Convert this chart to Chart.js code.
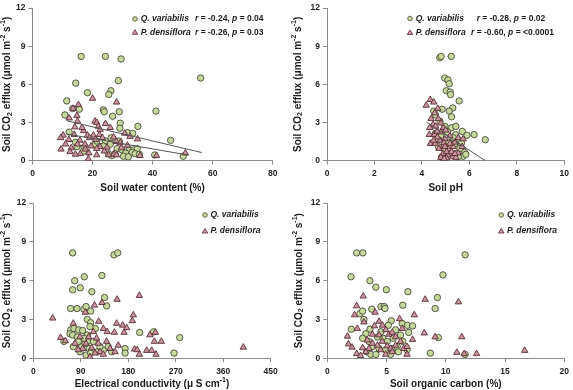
<!DOCTYPE html>
<html>
<head>
<meta charset="utf-8">
<script src="https://cdn.jsdelivr.net/npm/chart.js@4.4.1/dist/chart.umd.min.js"></script>
<style>
  body { margin: 0; background: #fff; width: 573px; height: 390px; position: relative; overflow: hidden; }
  canvas { position: absolute; }
</style>
</head>
<body>
<canvas id="swcChart" width="283" height="195" style="left:0;top:0"></canvas>
<canvas id="phChart" width="290" height="195" style="left:283px;top:0"></canvas>
<canvas id="ecChart" width="283" height="195" style="left:0;top:195px"></canvas>
<canvas id="socChart" width="290" height="195" style="left:283px;top:195px"></canvas>
<script>
// --- data: [x, soil CO2 efflux] ---
const swcQ = [[16.2,8.2],[24.3,8.2],[29.5,8.0],[56,6.5],[14.4,6.1],[28.6,6.3],[18.3,5.35],[26.1,5.5],[25.4,5.2],[11.4,4.7],
  [13.4,4.1],[15.6,4.05],[23.6,4.0],[23.9,3.85],[28.9,3.85],[41.1,3.9],[10.8,3.6],[26.7,3.5],[29.2,2.95],[35.1,2.7],
  [29.1,2.55],[12.2,2.25],[31.7,2.2],[33.4,2.15],[28.9,1.55],[46,1.6],[26.2,1.8],[24.3,1.55],[14.3,1.45],[17.2,1.05],
  [17,0.75],[28.2,0.95],[29.8,0.85],[32.3,0.85],[33.6,0.85],[34.9,0.95],[31,0.6],[33.2,0.65],[34.2,0.55],[35.6,0.5],
  [30.3,0.35],[31.9,0.3],[40.7,0.45],[50.2,0.35],[26.4,0.4],[27.5,0.55],[14.8,1.1],[25.9,1.3],[23.6,1.15],[20.9,1.25],
  [21.4,1.55],[25.3,0.55]];
const swcP = [[20,4.9],[28,4.6],[15.3,4.4],[13.5,4.1],[14.8,3.55],[12.2,3.35],[15,3.1],[20.8,3.1],[21.4,3.0],[24.3,2.9],
  [14.1,2.65],[21.9,2.7],[25.9,2.6],[10.2,2.0],[13.9,2.05],[17,2.35],[18.3,2.0],[20.3,2.0],[22.3,2.05],[27,1.85],
  [30.7,2.15],[32.5,1.9],[35,1.7],[9.4,1.8],[12.1,1.65],[15.8,1.6],[19,1.8],[21,1.65],[23.3,1.8],[11,1.3],
  [12.9,1.0],[15,1.3],[17.5,1.3],[19.5,1.15],[22.5,1.1],[24.8,1.05],[9.5,0.9],[12.5,0.7],[15.9,0.55],[18.8,0.6],
  [21.4,0.45],[23.9,0.75],[25.4,0.45],[27.1,0.5],[28,0.45],[29.6,1.0],[31.6,1.2],[35.8,0.4],[41.3,0.4],[50.9,0.6],
  [18.6,0.15],[14.3,0.5],[17.6,0.9],[21.4,0.95],[27.9,1.5],[29.2,1.4],[16.5,2.6],[22.5,2.45]];
const swcFitQ = [[11.4,3.14],[56.4,0.64]];
const swcFitP = [[11.4,2.1],[51.9,0.44]];

const phQ = [[4.75,8.1],[4.81,8.2],[5.24,8.2],[4.96,6.5],[5.1,6.35],[5.15,6.05],[5.03,5.5],[5.19,5.4],[5.21,5.2],[5.57,4.7],
  [4.85,4.05],[5.3,4.15],[5.15,3.9],[5.25,3.45],[4.5,3.9],[4.57,3.6],[4.76,3.1],[4.97,2.7],[5.25,2.6],[5.43,2.7],
  [5.7,2.3],[5.9,2.0],[6.2,2.05],[6.67,1.65],[5.53,1.65],[5.67,1.4],[5.4,1.35],[5.17,0.95],[5.6,0.95],[5.8,0.65],
  [5.74,0.35],[5.46,0.55],[5.25,0.55],[4.97,0.8],[4.57,2.15],[4.69,1.65],[4.8,2.0],[4.7,1.1],[5.08,2.25],[5.42,2.05],
  [5.85,0.5],[5.32,1.8],[4.83,0.3],[5.53,0.3],[5.11,1.45]];
const phP = [[4.18,4.35],[4.35,4.8],[4.5,4.6],[4.67,4.1],[4.54,3.75],[4.39,3.3],[4.69,3.3],[4.47,2.85],[4.58,2.7],[4.33,2.6],
  [4.9,2.6],[4.31,2.05],[4.53,2.05],[4.8,2.25],[5.0,2.4],[4.36,1.35],[4.56,1.35],[4.76,1.6],[4.97,1.7],[5.18,1.95],
  [5.53,1.8],[5.74,1.7],[4.72,0.95],[4.9,1.15],[5.11,0.9],[5.32,1.1],[4.89,0.55],[5.1,0.45],[5.3,0.3],[5.53,0.6],
  [4.8,0.25],[5.04,0.2],[5.43,0.25],[4.65,1.85],[4.93,1.4],[5.18,1.35],[5.39,1.45],[4.49,1.6],[5.04,0.7],[5.7,1.1],
  [4.64,2.3],[4.8,2.95],[4.97,1.1],[5.25,0.7],[5.39,0.55],[4.94,0.15]];
const phFitP = [[4.18,3.06],[6.67,0]];

const ecQ = [[74.6,8.15],[153,8.0],[160,8.15],[78.4,6.0],[96.7,6.3],[130,6.4],[74.6,5.3],[89,5.45],[111,5.15],[135,4.7],
  [139,4.05],[70.8,3.85],[82.8,3.85],[96,3.8],[100,4.0],[108.7,3.65],[102.4,3.0],[108.7,2.75],[70.8,2.2],[77,2.3],
  [86,2.2],[93.6,2.15],[69.5,1.9],[74.6,1.8],[83.4,1.65],[102.4,1.8],[58,1.3],[201.6,2.0],[228,2.05],[277.5,1.6],
  [266.8,0.4],[82,1.15],[91.7,0.9],[98,1.15],[106,0.75],[113.8,1.3],[88.5,0.5],[100,0.25],[108.7,0.4],[121,0.5],
  [132.7,0.65],[142,0.9],[148.6,0.5],[174,0.75],[174,0.4],[117.6,2.3],[102.4,1.3],[75.8,0.9],[85.3,1.3],[107.4,2.45],
  [96,1.55],[126.4,0.9]];
const ecP = [[36.7,3.1],[51.8,1.6],[60.7,1.35],[75.8,2.7],[79,1.15],[98.6,3.55],[116,4.1],[130,4.3],[158.7,4.55],[201,4.85],
  [124,2.85],[132.7,2.3],[140,2.05],[158,2.7],[169.4,2.55],[177,2.35],[172,2.0],[189.6,3.35],[187.7,2.9],[153.6,2.0],
  [221,1.8],[229.5,1.3],[231.4,2.0],[242.7,1.3],[192,0.7],[197,0.65],[214.9,0.6],[224.4,0.6],[232.6,0.3],[201,0.3],
  [398,0.85],[161,1.0],[145.4,0.75],[126.4,0.5],[117,0.4],[107.4,0.1],[100,1.15],[93.6,0.75],[120,1.55],[123,1.15],
  [139,1.3],[105,1.65],[113.8,2.05],[110.6,0.8],[85.3,0.65],[132.7,0.3],[155,0.5],[88.5,1.65]];

const socQ = [[2.48,8.15],[3.0,8.15],[11.63,8.0],[2.0,6.3],[3.6,6.0],[9.76,6.45],[4.1,5.5],[4.98,5.3],[6.8,5.15],[9.29,4.7],
  [6.37,4.1],[4.53,4.0],[4.8,4.0],[4.87,3.85],[3.75,3.8],[9.1,3.85],[2.75,3.45],[2.98,3.65],[3.09,3.0],[5.4,2.9],
  [6.32,2.7],[6.76,2.55],[7.2,2.5],[2.03,2.25],[3.6,2.25],[5.76,2.2],[3.25,1.9],[5.15,2.55],[9.37,1.6],[4.25,1.65],
  [4.7,1.55],[5.06,1.3],[6.37,1.3],[6.87,2.0],[3.53,1.3],[3.8,0.9],[4.37,0.75],[4.93,0.65],[5.48,0.75],[5.9,0.9],
  [6.0,0.5],[3.34,0.5],[3.67,0.3],[4.1,0.3],[5.34,0.3],[6.73,0.65],[8.7,0.4],[11.63,0.3],[5.56,1.55],[4.53,2.05],
  [2.98,1.55],[6.18,1.8]];
const socP = [[3.03,4.8],[2.48,4.05],[4.03,3.55],[2.3,3.35],[3.09,2.8],[4.37,2.85],[2.53,2.3],[3.98,2.5],[1.7,1.7],[1.78,1.1],
  [2.09,0.85],[2.48,0.35],[2.81,0.2],[8.26,4.55],[11.07,4.35],[7.34,3.35],[6.1,3.05],[6.32,2.3],[8.18,1.95],[9.1,1.65],
  [11.35,1.65],[7.2,1.45],[10.93,0.45],[11.55,0.35],[12.6,0.35],[16.66,0.6],[6.73,0.3],[3.37,1.4],[3.81,1.85],[4.37,1.8],
  [4.65,2.55],[4.93,2.2],[5.2,1.85],[5.48,2.0],[5.76,1.65],[3.81,1.15],[4.23,1.0],[4.65,1.3],[5.06,0.95],[5.34,0.75],
  [5.76,1.0],[6.18,1.3],[4.5,0.65],[3.53,0.75],[3.25,0.5],[2.98,0.8],[4.93,0.3],[5.48,0.5],[6.45,0.75],[6.73,0.9]];

// --- styles ---
const FONT = "'Liberation Sans', Arial, sans-serif";
const qFill = '#c5d99c', qEdge = '#4a4a3a';
const pFill = '#c8959e', pEdge = '#5a2c36';
const axisColor = '#8c8c8c';

function toXY(arr) { return arr.map(p => ({ x: p[0], y: p[1] })); }

// draw a run of text pieces (different fonts / baseline shifts) starting at x
function drawRun(ctx, segs, x, y) {
  segs.forEach(s => {
    ctx.font = s.f;
    ctx.fillText(s.t, x, y + (s.dy || 0));
    x += ctx.measureText(s.t).width;
  });
}
function runWidth(ctx, segs) {
  return segs.reduce((w, s) => { ctx.font = s.f; return w + ctx.measureText(s.t).width; }, 0);
}

const B10 = `bold 10px ${FONT}`, B7 = `bold 7px ${FONT}`;
const yTitleSegs = [
  { t: 'Soil CO', f: B10 }, { t: '2', f: B7, dy: 2.5 }, { t: ' efflux (\u03bcmol m', f: B10 },
  { t: '-2', f: B7, dy: -4 }, { t: ' s', f: B10 }, { t: '-1', f: B7, dy: -4 }, { t: ')', f: B10 }
];

const panelText = {
  id: 'panelText',
  afterDraw(chart, args, o) {
    const ctx = chart.ctx, a = chart.chartArea;
    ctx.save();
    ctx.fillStyle = '#1a1a1a';
    ctx.textBaseline = 'middle';
    // y title, rotated
    ctx.save();
    ctx.translate(o.yTitleX, (a.top + a.bottom) / 2);
    ctx.rotate(-Math.PI / 2);
    drawRun(ctx, yTitleSegs, -runWidth(ctx, yTitleSegs) / 2, 0);
    ctx.restore();
    // x title
    const xw = runWidth(ctx, o.xTitle);
    drawRun(ctx, o.xTitle, (a.left + a.right) / 2 - xw / 2, o.xTitleY);
    // legend
    const I = `italic bold 8.5px ${FONT}`, N = `bold 8.5px ${FONT}`;
    o.legend.forEach((row, i) => {
      const y = row.y;
      ctx.lineWidth = 0.8;
      ctx.beginPath();
      if (i === 0) {
        ctx.arc(o.markX, y, 2.3, 0, Math.PI * 2);
        ctx.fillStyle = qFill; ctx.strokeStyle = qEdge;
      } else {
        ctx.moveTo(o.markX, y - 2.6); ctx.lineTo(o.markX + 2.8, y + 2); ctx.lineTo(o.markX - 2.8, y + 2); ctx.closePath();
        ctx.fillStyle = pFill; ctx.strokeStyle = pEdge;
      }
      ctx.fill(); ctx.stroke();
      ctx.fillStyle = '#1a1a1a';
      drawRun(ctx, [{ t: row.name, f: I }], o.textX, y);
      if (row.r) {
        drawRun(ctx, [{ t: 'r', f: I }, { t: ' = ' + row.r + ', ', f: N }, { t: 'p', f: I }, { t: ' = ' + row.p, f: N }], row.rX, y);
      }
    });
    ctx.restore();
  }
};

function makePanel(id, cfg) {
  const tickFont = { family: FONT, size: 8.5, weight: 'bold' };
  const datasets = [
    { label: 'Q. variabilis', data: toXY(cfg.q), pointStyle: 'circle', pointRadius: 3.2, borderWidth: 0.9,
      backgroundColor: qFill, borderColor: qEdge, order: 2 },
    { label: 'P. densiflora', data: toXY(cfg.p), pointStyle: 'triangle', pointRadius: 3.7, borderWidth: 0.9,
      backgroundColor: pFill, borderColor: pEdge, order: 1 }
  ];
  (cfg.fits || []).forEach(f => datasets.push({
    type: 'line', data: toXY(f), showLine: true, borderColor: '#555', borderWidth: 1,
    pointRadius: 0, fill: false, order: 0
  }));

  new Chart(document.getElementById(id), {
    type: 'scatter',
    data: { datasets },
    options: {
      responsive: false,
      animation: false,
      layout: { padding: { left: 0, top: cfg.top, right: cfg.right, bottom: 0 } },
      plugins: { legend: { display: false }, tooltip: { enabled: false }, panelText: cfg.text },
      scales: {
        x: {
          type: 'linear', min: 0, max: cfg.xMax,
          ticks: { stepSize: cfg.xStep, font: tickFont, color: '#222', padding: 4, maxRotation: 0 },
          grid: { drawOnChartArea: false, tickLength: 4, color: axisColor },
          border: { color: axisColor },
          afterFit: s => { s.height = cfg.xH; }
        },
        y: {
          min: 0, max: 12,
          ticks: { stepSize: 3, font: tickFont, color: '#222', padding: 3 },
          grid: { drawOnChartArea: false, tickLength: 4, color: axisColor },
          border: { color: axisColor },
          afterFit: s => { s.width = cfg.yW; }
        }
      }
    },
    plugins: [panelText]
  });
}

const B10x = `bold 10px ${FONT}`;

makePanel('swcChart', {
  q: swcQ, p: swcP, fits: [swcFitQ, swcFitP], xMax: 80, xStep: 20,
  top: 5, right: 10.3, xH: 34.3, yW: 32.5,
  text: {
    yTitleX: 7.5, xTitleY: 188, xTitle: [{ t: 'Soil water content (%)', f: B10x }],
    markX: 135, textX: 140.7,
    legend: [
      { y: 19, name: 'Q. variabilis', r: '-0.24', p: '0.04', rX: 195 },
      { y: 32.3, name: 'P. densiflora', r: '-0.26', p: '0.03', rX: 195 }
    ]
  }
});

makePanel('phChart', {
  q: phQ, p: phP, fits: [phFitP], xMax: 10, xStep: 2,
  top: 5, right: 6, xH: 34.3, yW: 44,
  text: {
    yTitleX: 15, xTitleY: 188, xTitle: [{ t: 'Soil pH', f: B10x }],
    markX: 127, textX: 132.7,
    legend: [
      { y: 18.5, name: 'Q. variabilis', r: '-0.28', p: '0.02', rX: 193.7 },
      { y: 32.5, name: 'P. densiflora', r: '-0.60', p: '<0.0001', rX: 188 }
    ]
  }
});

makePanel('ecChart', {
  q: ecQ, p: ecP, xMax: 450, xStep: 90,
  top: 7.3, right: 12.3, xH: 31.7, yW: 33.3,
  text: {
    yTitleX: 7.3, xTitleY: 189,
    xTitle: [{ t: 'Electrical conductivity (\u03bc S cm', f: B10x }, { t: '-1', f: B7, dy: -4 }, { t: ')', f: B10x }],
    markX: 205, textX: 210.5,
    legend: [
      { y: 20, name: 'Q. variabilis' },
      { y: 36, name: 'P. densiflora' }
    ]
  }
});

makePanel('socChart', {
  q: socQ, p: socP, xMax: 20, xStep: 5,
  top: 7.3, right: 6, xH: 31.7, yW: 44.3,
  text: {
    yTitleX: 16, xTitleY: 189, xTitle: [{ t: 'Soil organic carbon (%)', f: B10x }],
    markX: 218.3, textX: 224,
    legend: [
      { y: 20, name: 'Q. variabilis' },
      { y: 36, name: 'P. densiflora' }
    ]
  }
});
</script>
</body>
</html>
